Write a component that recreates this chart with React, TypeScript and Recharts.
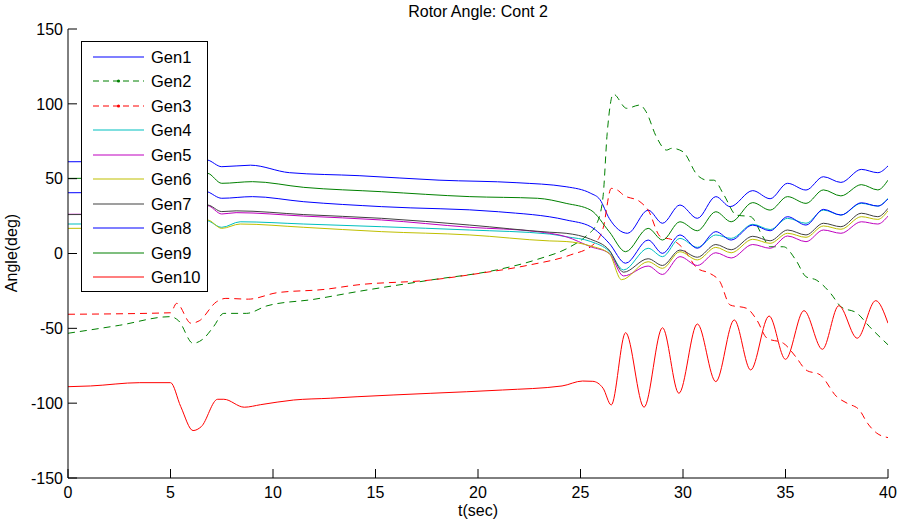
import React from 'react';
import { LineChart, Line, XAxis, YAxis, Legend } from 'recharts';

// time (s) / rotor angle (deg) samples
const xTicks = [0, 5, 10, 15, 20, 25, 30, 35, 40];
const yTicks = [-150, -100, -50, 0, 50, 100, 150];

const gen1 = [
    [0, 61.3], [4.8, 61.5], [5.6, 64], [6.8, 62.5], [7.5, 58], [8.9, 59], [10.8, 54], [14.2, 52],
    [18.1, 49], [21.9, 47.3], [24.3, 44.6], [25.5, 40.2], [25.95, 36], [26.4, 23.5], [27.3, 13.5],
    [28.3, 29], [29.0, 20.2], [29.85, 32.4], [30.7, 23.5], [31.6, 38], [32.3, 31.3], [33.4, 42],
    [34.25, 36.6], [35.1, 46.9], [36.0, 42.4], [36.85, 51.3], [37.7, 47.5], [38.7, 56.2], [39.5, 54], [40, 58.5],
];
const gen2 = [
    [0, -53.3], [2.5, -48], [5.0, -42.2], [5.4, -45], [6.1, -60], [6.6, -57], [7.1, -48.9], [7.6, -40],
    [8.7, -40], [9.7, -35], [12, -30.6], [14.1, -25.5], [17.7, -17.7], [20.9, -11], [22.9, -3.9],
    [24.5, 4.5], [25.3, 12], [25.8, 20.2], [26.1, 38], [26.3, 80], [26.6, 106.5], [27.25, 97],
    [27.9, 99.2], [28.2, 94.7], [28.7, 78], [29.2, 69.1], [29.45, 70.3], [30, 68], [30.7, 52.4],
    [31.2, 49], [31.5, 49], [32, 39], [32.6, 25.7], [33.3, 24.6], [33.9, 11.2], [34.25, 4.5],
    [34.9, 4.5], [35.5, -4.3], [36, -15.5], [36.5, -17.7], [37.2, -26.6], [37.7, -35.5],
    [38.5, -40], [39.1, -48.9], [40, -61],
];
const gen3 = [
    [0, -40.6], [5.0, -39.6], [5.3, -33.3], [6.0, -46.6], [6.4, -45], [7.25, -32.2], [7.7, -30],
    [8.8, -30.5], [10.2, -26.2], [12.5, -24], [14.1, -21], [17.7, -17.7], [20.1, -13.2], [22.5, -7.7],
    [24.5, -1], [25.6, 5.7], [26.1, 16.8], [26.5, 43.5], [26.8, 42.4], [27.1, 39], [27.9, 34.6],
    [28.3, 29], [28.9, 11.2], [29.5, 9], [30, 3.5], [30.7, -9.9], [31.3, -13.2], [31.8, -18.8],
    [32.3, -34.4], [33.1, -36.6], [33.6, -44.4], [34.1, -56.6], [34.9, -60], [35.5, -69], [36, -77.8],
    [36.7, -81.2], [37.5, -95.7], [38, -100], [38.6, -104.5], [39, -113.4], [39.45, -120], [40, -123],
];
const gen4 = [
    [0, 19.7], [4.8, 20], [5.6, 24], [6.8, 22], [7.5, 17.5], [8.4, 21.2], [11.5, 19.7], [15.3, 17.9],
    [19.6, 15.7], [23.5, 13], [24.3, 11.2], [25.5, 8], [26.4, 1.5], [27.1, -11], [28.3, 3.5],
    [29.0, -2.1], [29.85, 10.1], [30.7, 4.1], [31.6, 12.4], [32.35, 10.1], [33.4, 19.5], [34.25, 16],
    [35.1, 23.5], [36.0, 20.2], [36.85, 29], [37.7, 25.7], [38.7, 33.5], [39.5, 31.7], [40, 36.9],
];
const gen5 = [
    [0, 26.2], [4.8, 26.5], [5.6, 31], [6.8, 32], [7.5, 26.4], [8.2, 27.3], [11.5, 25], [15.3, 22.4],
    [19.6, 17.5], [22.9, 14.6], [24.3, 11.2], [25.5, 4.5], [26.4, 0.1], [27.1, -15], [28.3, -8.4],
    [29.0, -14], [29.85, -2.1], [30.7, -8], [31.6, 0.5], [32.35, -3], [33.4, 6], [34.25, 3.5],
    [35.1, 11.7], [36.0, 7.9], [36.85, 15.7], [37.7, 13.5], [38.7, 21.2], [39.5, 19.7], [40, 25],
];
const gen6 = [
    [0, 16.8], [4.8, 17], [5.6, 21], [6.8, 22.4], [7.5, 16.8], [8.4, 19.7], [11.5, 17.5], [15.3, 14.6],
    [19.6, 12.4], [23.5, 8.4], [24.3, 8], [25.5, 5], [26.4, 0], [27.0, -17.5], [28.3, -5.5],
    [29.0, -9.9], [29.85, 1.2], [30.7, -4.3], [31.6, 4.1], [32.35, 0.5], [33.4, 9.5], [34.25, 6.8],
    [35.1, 13.5], [36.0, 10.8], [36.85, 18.4], [37.7, 16.2], [38.7, 24.6], [39.5, 22.8], [40, 28.6],
];
const gen7 = [
    [0, 26], [4.8, 26.3], [5.6, 31], [6.8, 32.4], [7.5, 28], [8.2, 28.5], [11.5, 26], [15.3, 23.5],
    [19.6, 19], [23.5, 14.2], [24.3, 13.5], [25.5, 9.5], [26.4, 2.3], [27.1, -12.5], [28.3, -3.5],
    [29.0, -8], [29.85, 2.3], [30.7, -2.5], [31.6, 6], [32.35, 2.5], [33.4, 11.5], [34.25, 8.5],
    [35.1, 15.7], [36.0, 12.4], [36.85, 20.2], [37.7, 17.9], [38.7, 26.9], [39.5, 24.6], [40, 30.2],
];
const gen8 = [
    [0, 40.6], [4.8, 41], [5.6, 44], [6.8, 41.3], [7.5, 36.9], [9.0, 38], [11.5, 34.6], [15.3, 31.3],
    [21, 27.9], [24.3, 22.4], [25.5, 17.9], [26.4, 6.8], [27.2, -6.5], [28.3, 9], [29.0, 0.1],
    [29.85, 12.4], [30.7, 3.5], [31.6, 14.6], [32.35, 9], [33.4, 19], [34.25, 15.2], [35.1, 24.6],
    [36.0, 19], [36.85, 29.5], [37.7, 25.7], [38.7, 33.9], [39.5, 31.7], [40, 36.5],
];
const gen9 = [
    [0, 50.2], [4.8, 50.5], [5.6, 54], [6.8, 53.6], [7.5, 46.9], [9.0, 48], [11.5, 44.2], [15.3, 41.3],
    [19.6, 38], [22.9, 36.9], [24.3, 33.5], [25.5, 29], [26.4, 14.6], [27.2, 1.2], [28.3, 16.8],
    [29.0, 9], [29.85, 21.2], [30.7, 15.2], [31.6, 27.9], [32.35, 21.2], [33.4, 34], [34.25, 29],
    [35.1, 38], [36.0, 33.5], [36.85, 42.5], [37.7, 38.5], [38.7, 46], [39.5, 42.5], [40, 49],
];
const gen10 = [
    [0, -89], [1.1, -88.5], [3.5, -86.3], [5.0, -86.3], [5.5, -102.3], [6.1, -118.3], [6.5, -115.7],
    [7.3, -97.4], [7.6, -97.4], [8.6, -102.7], [9.4, -101], [11, -97.9], [12.8, -96.7], [14.1, -95.7],
    [17.7, -93.4], [21.2, -91.2], [24.1, -88.5], [25.1, -85.2], [25.6, -85.4], [26.1, -90],
    [26.5, -101.2], [27.2, -52.9], [28.1, -102.7], [29.0, -49.6], [29.8, -93.4], [30.7, -47.1],
    [31.6, -85.6], [32.5, -44.4], [33.3, -77.8], [34.2, -41.8], [35.0, -70.7], [35.9, -38.2],
    [36.8, -64], [37.6, -34.9], [38.5, -56.6], [39.4, -31.5], [40, -46.6],
];

const SERIES = [
    { name: 'Gen1', color: '#0000ff', rows: gen1, dashed: false },
    { name: 'Gen2', color: '#008000', rows: gen2, dashed: true },
    { name: 'Gen3', color: '#ff0000', rows: gen3, dashed: true },
    { name: 'Gen4', color: '#00bfbf', rows: gen4, dashed: false },
    { name: 'Gen5', color: '#bf00bf', rows: gen5, dashed: false },
    { name: 'Gen6', color: '#bfbf00', rows: gen6, dashed: false },
    { name: 'Gen7', color: '#404040', rows: gen7, dashed: false },
    { name: 'Gen8', color: '#0000ff', rows: gen8, dashed: false },
    { name: 'Gen9', color: '#008000', rows: gen9, dashed: false },
    { name: 'Gen10', color: '#ff0000', rows: gen10, dashed: false },
];

const FONT = '"Liberation Sans", Arial, Helvetica, sans-serif';
const DASH = '7 5';

const toPoints = (rows: number[][]) => rows.map(([t, v]) => ({ t, v }));

const LegendBox: React.FC<any> = () => (
    <svg width={125} height={249} style={{ display: 'block', fontFamily: FONT }}>
        {SERIES.map((s, i) => {
            const y = Math.round(14.7 + i * 24.5);
            return (
                <g key={s.name}>
                    <line x1={11} x2={62} y1={y} y2={y} stroke={s.color} strokeWidth={1.2} strokeDasharray={s.dashed ? '6 4' : undefined} />
                    {s.dashed && <circle cx={36.5} cy={y} r={1.6} fill={s.color} />}
                    <text x={69} y={y} dy="0.36em" fontSize={16.5} fill="#000">{s.name}</text>
                </g>
            );
        })}
    </svg>
);

// axis title and chart title, drawn through the y axis label slot
const Titles: React.FC<any> = () => (
    <g fontFamily={FONT} fontSize={16} fill="#000">
        <text transform="translate(17,253) rotate(-90)" textAnchor="middle">Angle(deg)</text>
        <text x={478} y={17} textAnchor="middle">Rotor Angle: Cont 2</text>
    </g>
);

const axisTick = { fill: '#000', fontSize: 16, fontFamily: FONT };
const black = { stroke: '#000' };

const App: React.FC = () => {
    return (
        <div style={{ position: 'absolute', left: 0, top: 0, width: 899, height: 522, background: '#fff' }}>
            <LineChart width={899} height={522} margin={{ top: 29, right: 11, bottom: 0, left: 0 }} style={{ fontFamily: FONT }}>
                <XAxis
                    dataKey="t"
                    type="number"
                    domain={[0, 40]}
                    ticks={xTicks}
                    interval={0}
                    allowDataOverflow
                    height={44}
                    tickSize={-9}
                    tickMargin={18}
                    tick={axisTick}
                    axisLine={black}
                    tickLine={black}
                    label={{ value: 't(sec)', position: 'insideBottom', offset: 6, fill: '#000', fontSize: 16, fontFamily: FONT }}
                />
                <XAxis
                    xAxisId="top"
                    orientation="top"
                    dataKey="t"
                    type="number"
                    domain={[0, 40]}
                    ticks={xTicks}
                    interval={0}
                    allowDataOverflow
                    height={0}
                    tickSize={-9}
                    tick={false}
                    axisLine={black}
                    tickLine={black}
                />
                <YAxis
                    type="number"
                    domain={[-150, 150]}
                    ticks={yTicks}
                    interval={0}
                    allowDataOverflow
                    width={68}
                    tickSize={-9}
                    tickMargin={14}
                    tick={axisTick}
                    axisLine={black}
                    tickLine={black}
                    label={{ content: <Titles /> }}
                />
                <YAxis
                    yAxisId="right"
                    orientation="right"
                    type="number"
                    domain={[-150, 150]}
                    ticks={yTicks}
                    interval={0}
                    allowDataOverflow
                    width={0}
                    tickSize={-9}
                    tick={false}
                    axisLine={black}
                    tickLine={black}
                />
                {SERIES.map((s) => (
                    <Line
                        key={s.name}
                        name={s.name}
                        data={toPoints(s.rows)}
                        dataKey="v"
                        type="monotone"
                        stroke={s.color}
                        strokeWidth={1}
                        strokeDasharray={s.dashed ? DASH : undefined}
                        dot={false}
                        activeDot={false}
                        isAnimationActive={false}
                    />
                ))}
                <Legend
                    layout="vertical"
                    align="center"
                    verticalAlign="middle"
                    content={<LegendBox />}
                    wrapperStyle={{
                        left: 81,
                        top: 41,
                        width: 127,
                        height: 251,
                        background: '#fff',
                        border: '1px solid #000',
                        boxSizing: 'border-box',
                    }}
                />
            </LineChart>
        </div>
    );
};

export default App;
